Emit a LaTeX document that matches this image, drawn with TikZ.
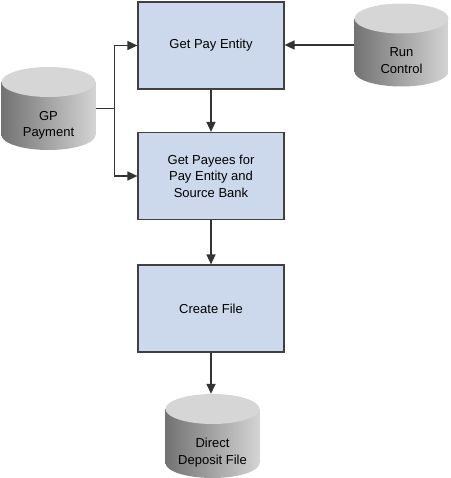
\documentclass[tikz,border=0pt]{standalone}
\usepackage{fontspec}
\setmainfont{Liberation Sans}
\usetikzlibrary{arrows.meta,calc}
\definecolor{boxblue}{HTML}{CCD9EC}
\definecolor{edge}{HTML}{404040}
\definecolor{wire}{HTML}{333333}
\newcommand{\dbtext}[2]{\raisebox{-19.5pt}[0pt][0pt]{\begin{tabular}{@{}c@{}}#1\\#2\end{tabular}}}
\begin{document}
\begin{tikzpicture}[x=1pt,y=-1pt,
  every node/.style={font=\fontsize{13}{16.5}\selectfont, text=black},
  procbox/.style={draw=edge, line width=1.2pt, fill=boxblue, minimum width=146pt, minimum height=87pt, align=center, inner sep=0pt},
  db/.style={minimum width=94pt, minimum height=83pt, inner sep=0pt,
    path picture={
      \shade[left color=black!55, right color=black!17]
        let \p1=(path picture bounding box.north west), \p2=(path picture bounding box.south east) in
        (\x1,\y1-15pt) -- (\x1,\y2+15pt) arc[start angle=180, end angle=360, x radius={(\x2-\x1)/2}, y radius=15pt]
        -- (\x2,\y1-15pt) -- cycle;
      \fill[black!16]
        let \p1=(path picture bounding box.north west), \p2=(path picture bounding box.south east) in
        (\x1,\y1-15pt) arc[start angle=180, end angle=540, x radius={(\x2-\x1)/2}, y radius=15pt];
    }},
  conn/.style={draw=wire, line width=1.5pt},
  arr/.style={conn, -{Triangle[length=10pt,width=9pt]}}
]
\useasboundingbox (0,0) rectangle (450,478);

\node[procbox] (b1) at (211,45.5) {Get Pay Entity};
\node[procbox] (b2) at (211,176) {Get Payees for\\Pay Entity and\\Source Bank};
\node[procbox] (b3) at (211,308.5) {Create File};

\node[db] (gp) at (48.5,108.5) {\dbtext{GP}{Payment}};
\node[db] (rc) at (401.5,45) {\dbtext{Run}{Control}};
\node[db, minimum height=84pt] (dd) at (212.5,436) {\dbtext{Direct}{Deposit File}};

\draw[conn] (gp.east) -- ++(19,0) coordinate (j);
\draw[arr] (j) |- (b1.west);
\draw[arr] (j) |- (b2.west);
\draw[arr] (rc.west) -- (b1.east |- rc.west);
\draw[arr] (b1.south) -- (b2.north);
\draw[arr] (b2.south) -- (b3.north);
\draw[arr] (b3.south) -- (b3.south |- dd.north);
\end{tikzpicture}
\end{document}
